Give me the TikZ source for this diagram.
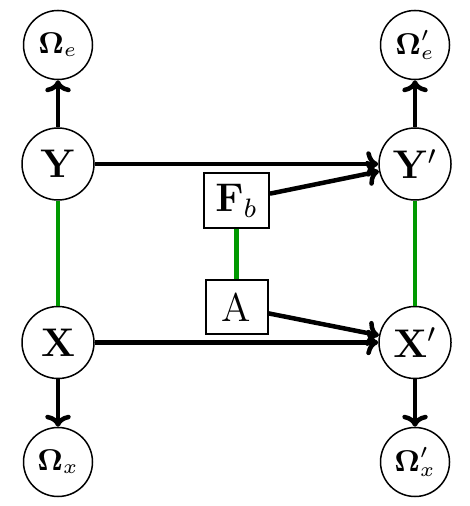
\documentclass[tikz,border=0pt]{standalone}
\usepackage{amsmath}
\usetikzlibrary{arrows.meta}
\begin{document}
\begin{tikzpicture}[x=0.3pt,y=-0.3pt,
  bignode/.style={circle,draw,line width=0.45pt,inner sep=0pt,minimum size=21.6pt,font=\large},
  omnode/.style={circle,draw,line width=0.45pt,inner sep=0pt,minimum size=20.7pt,font=\small},
  boxnode/.style={rectangle,draw,line width=0.6pt,inner sep=0pt},
  arr/.style={-{Computer Modern Rightarrow[length=3.6pt,width=7.6pt]},line width=1.35pt},
  glink/.style={line width=1.3pt,draw=green!60!black}]
\useasboundingbox (0,0) rectangle (470,506);
\node[omnode] (Oe) at (58,45) {$\mathbf{\Omega}_e$};
\node[omnode] (Oep) at (415,45) {$\mathbf{\Omega}'_e$};
\node[bignode] (Y) at (58,164) {$\mathbf{Y}$};
\node[bignode] (Yp) at (415,164) {$\mathbf{Y}'$};
\node[boxnode,minimum width=19.5pt,minimum height=16.5pt,font=\large] (Fb) at (236.5,200.5) {$\mathbf{F}_b$};
\node[boxnode,minimum width=18.6pt,minimum height=16.1pt,font=\large] (A) at (236.5,307) {A};
\node[bignode] (X) at (58,342.5) {$\mathbf{X}$};
\node[bignode] (Xp) at (415,342.5) {$\mathbf{X}'$};
\node[omnode] (Ox) at (58,462) {$\mathbf{\Omega}_x$};
\node[omnode] (Oxp) at (415,462) {$\mathbf{\Omega}'_x$};
\draw[glink] (Y) -- (X);
\draw[glink] (Yp) -- (Xp);
\draw[glink] (Fb) -- (A);
\draw[arr] (Y) -- (Oe);
\draw[arr] (Yp) -- (Oep);
\draw[arr] (X) -- (Ox);
\draw[arr] (Xp) -- (Oxp);
\draw[arr] (Y) -- (Yp);
\draw[arr] (X) -- (Xp);
\draw[arr] (Fb) -- (Yp);
\draw[arr] (A) -- (Xp);
\end{tikzpicture}
\end{document}
